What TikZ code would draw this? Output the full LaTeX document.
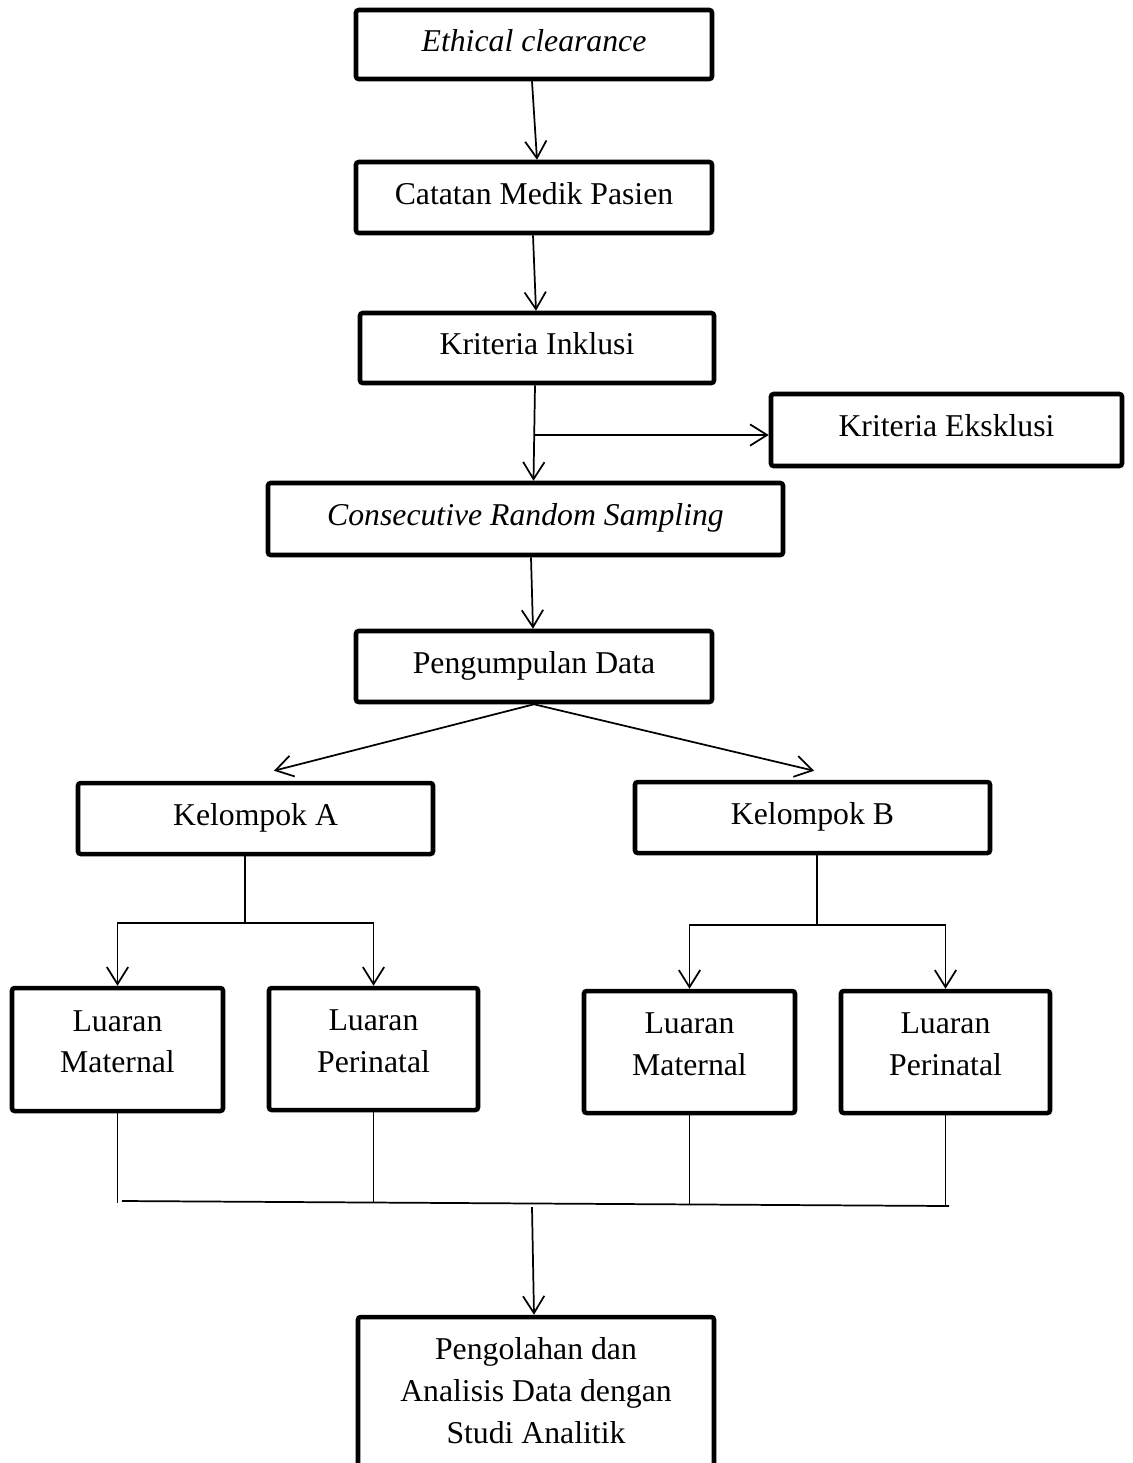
\documentclass[tikz,border=0pt]{standalone}
\usepackage{fontspec}
\setmainfont{Liberation Serif}
\usetikzlibrary{arrows.meta,calc}
\newcommand\pxu{0.375pt}
\tikzset{
  bx/.style 2 args={draw, line width=1.7pt, rounded corners=1pt,
    minimum width=#1*0.375pt, minimum height=#2*0.375pt, inner sep=0pt,
    font=\fontsize{11.9pt}{15.6pt}\selectfont, align=center},
  one/.style={text height=8.2pt, text depth=3pt},
  two/.style={text height=23.4pt, text depth=5.8pt},
  three/.style={text height=39.6pt, text depth=9.9pt},
  con/.style={line width=0.65pt},
  arr/.style={con, -{Straight Barb[length=6.4pt,width=8pt]}},
  arrtwo/.style={con, {Straight Barb[length=6.4pt,width=8pt]}-{Straight Barb[length=6.4pt,width=8pt]}},
}
\begin{document}
\begin{tikzpicture}[x=0.375pt,y=-0.375pt]
\clip (0,0) rectangle (1133,1463);
\fill[white] (0,0) rectangle (1133,1463);
% boxes
\node[bx={356}{69},one]  (eth) at (534,44.5)   {\itshape Ethical clearance};
\node[bx={356}{71},one]  (cat) at (534,197.5)  {Catatan Medik Pasien};
\node[bx={354}{70},one]  (ink) at (537,348)    {Kriteria Inklusi};
\node[bx={351}{72},one]  (eks) at (946.5,430)  {Kriteria Eksklusi};
\node[bx={515}{72},one]  (crs) at (525.5,519)  {\itshape Consecutive Random Sampling};
\node[bx={356}{71},one]  (pen) at (534,666.5)  {Pengumpulan Data};
\node[bx={355}{71},one]  (ka)  at (255.5,818.5) {Kelompok A};
\node[bx={355}{71},one]  (kb)  at (812.5,817.5) {Kelompok B};
\node[bx={211}{123},two] (lma) at (117.5,1049.5) {Luaran\\Maternal};
\node[bx={209}{122},two] (lpa) at (373.5,1049)   {Luaran\\Perinatal};
\node[bx={211}{122},two] (lmb) at (689.5,1052)   {Luaran\\Maternal};
\node[bx={209}{122},two] (lpb) at (945.5,1052)   {Luaran\\Perinatal};
\node[bx={356}{173},three] (out) at (536,1403.5) {Pengolahan dan\\Analisis Data dengan\\Studi Analitik};
% connectors
\draw[arr] ([xshift=-2*\pxu]eth.south) -- ([xshift=3*\pxu]cat.north);
\draw[arr] ([xshift=-1*\pxu]cat.south) -- ([xshift=-1*\pxu]ink.north);
\draw[arr] ([xshift=-2*\pxu]ink.south) -- ([xshift=8*\pxu]crs.north);
\coordinate (br) at (535,435);
\draw[arr] (br) -- ([yshift=-5*\pxu]eks.west);
\draw[arr] ([xshift=5.5*\pxu]crs.south) -- ([xshift=-1*\pxu]pen.north);
\draw[arr] (pen.south) -- ([xshift=18.5*\pxu,yshift=10*\pxu]ka.north);
\draw[arr] (pen.south) -- ([xshift=1.5*\pxu,yshift=9*\pxu]kb.north);
\draw[con] ([xshift=-10.5*\pxu]ka.south) -- ++(0,67) coordinate (ja);
\draw[arrtwo] (lma.north) -- (lma.north |- ja) -- (lpa.north |- ja) -- (lpa.north);
\draw[con] ([xshift=4.5*\pxu]kb.south) -- ++(0,70) coordinate (jb);
\draw[arrtwo] (lmb.north) -- (lmb.north |- jb) -- (lpb.north |- jb) -- (lpb.north);
\draw[con] (lma.south) -- ++(0,90);
\draw[con] (lpa.south) -- ++(0,90);
\draw[con] (lmb.south) -- ++(0,89);
\draw[con] (lpb.south) -- ++(0,91);
\coordinate (hl) at (122,1201);
\coordinate (hr) at (949,1206);
\draw[con] (hl) -- (hr);
\coordinate (md) at (532,1207);
\draw[arr] (md) -- ([xshift=-2*\pxu]out.north);
\end{tikzpicture}
\end{document}
